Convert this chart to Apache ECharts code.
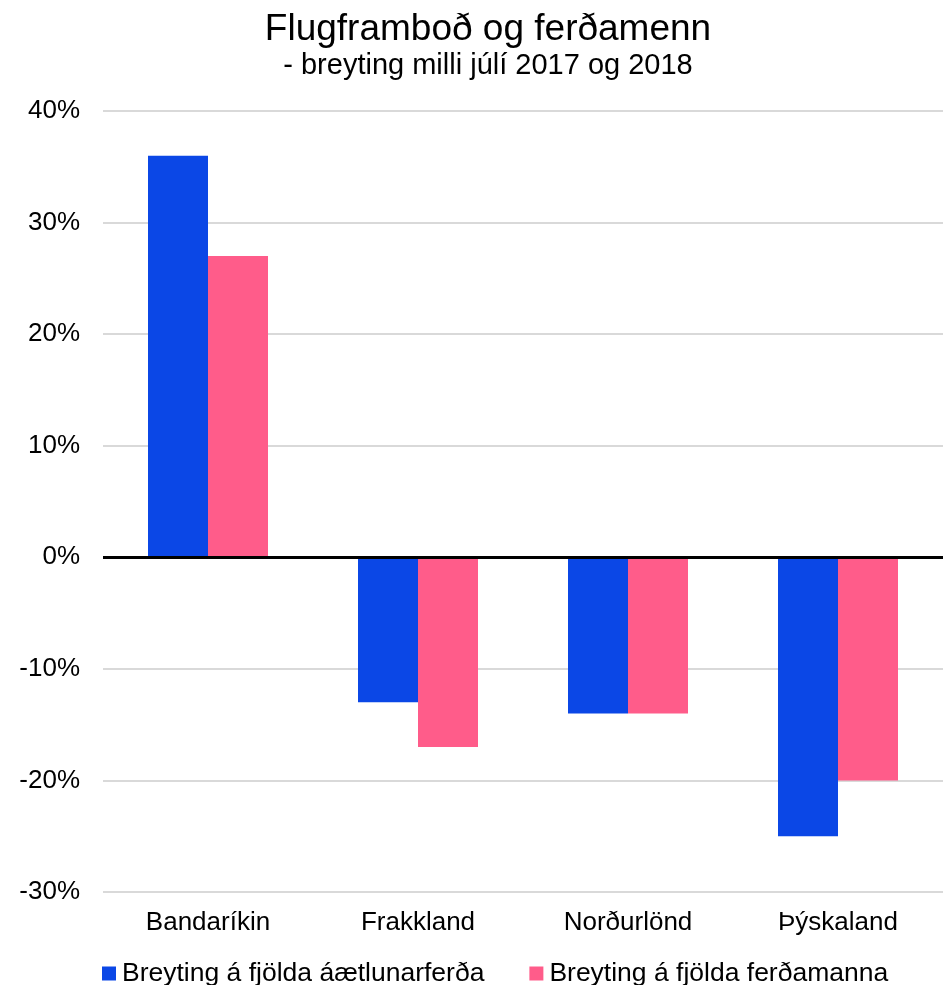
<!DOCTYPE html>
<html><head><meta charset="utf-8">
<script src="https://cdn.jsdelivr.net/npm/echarts@6/dist/echarts.min.js"></script>
<style>html,body{margin:0;padding:0;background:#fff}#c{width:948px;height:985px}</style>
</head><body><div id="c"></div>
<script>
const categories = ["Bandaríkin", "Frakkland", "Norðurlönd", "Þýskaland"];
const seriesNames = ["Breyting á fjölda áætlunarferða", "Breyting á fjölda ferðamanna"];
const flights = [36, -13, -14, -25];
const tourists = [27, -17, -14, -20];
const yTicks = [-30, -20, -10, 0, 10, 20, 30, 40];

const font = "Liberation Sans, Arial, sans-serif";
const chart = echarts.init(document.getElementById('c'));
chart.setOption({
  animation: false,
  color: ["#0b47e6", "#ff5c8a"],
  title: {
    text: "Flugframboð og ferðamenn",
    subtext: "- breyting milli júlí 2017 og 2018",
    left: 483, textAlign: 'center', top: 6, itemGap: 3,
    textStyle: {fontFamily: font, fontSize: 37, fontWeight: 'normal', color: '#000'},
    subtextStyle: {fontFamily: font, fontSize: 29, color: '#000'}
  },
  legend: {
    top: 955, left: 97,
    itemWidth: 14, itemHeight: 14, itemGap: 45, icon: 'rect',
    textStyle: {fontFamily: font, fontSize: 26.5, color: '#000', padding: [0,0,0,1]},
    data: seriesNames
  },
  grid: {left: 103, right: 5, top: 111, bottom: 93},
  xAxis: {
    type: 'category', data: categories,
    axisLine: {show: false}, axisTick: {show: false},
    axisLabel: {fontFamily: font, fontSize: 26, color: '#000', margin: 18}
  },
  yAxis: {
    type: 'value', min: yTicks[0], max: yTicks[yTicks.length-1], interval: 10,
    axisLine: {show: false}, axisTick: {show: false},
    axisLabel: {fontFamily: font, fontSize: 26, color: '#000', margin: 23, formatter: v => v + '%'},
    splitLine: {lineStyle: {color: '#d9d9d9', width: 2}}
  },
  series: [
    {name: seriesNames[0], type: 'bar', data: flights, barWidth: 60, barGap: '0%',
     markLine: {silent: true, symbol: 'none', label: {show: false},
       lineStyle: {color: '#000', width: 3, type: 'solid'}, data: [{yAxis: 0}]}},
    {name: seriesNames[1], type: 'bar', data: tourists, barWidth: 60, barGap: '0%'}
  ]
});
</script></body></html>
